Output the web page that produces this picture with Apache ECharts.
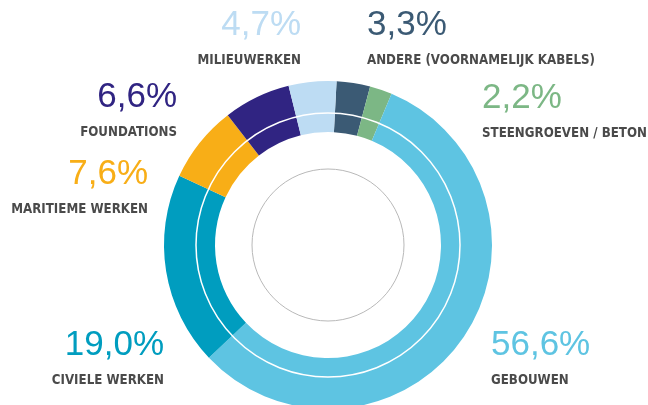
<!DOCTYPE html>
<html lang="nl">
  <head>
    <meta charset="UTF-8" />
    <title>Omzet per activiteit</title>
    <style>
      html, body { margin: 0; padding: 0; background: #fff; }
      #main { width: 648px; height: 405px; }
    </style>
  </head>
  <body>
    <div id="main"></div>
    <script src="https://cdn.jsdelivr.net/npm/echarts@6/dist/echarts.min.js"></script>
    <script>
      // clockwise from the top
      const names = [
        "ANDERE (VOORNAMELIJK KABELS)",
        "STEENGROEVEN / BETON",
        "GEBOUWEN",
        "CIVIELE WERKEN",
        "MARITIEME WERKEN",
        "FOUNDATIONS",
        "MILIEUWERKEN",
      ];
      const values = [3.3, 2.2, 56.6, 19.0, 7.6, 6.6, 4.7];
      const colors = ["#3b5a74", "#7cb785", "#5ec4e2", "#009dbf", "#f8ae17", "#302482", "#bddcf3"];

      // where each label block sits (top of the percent line)
      const labelSpots = [
        { x: 367, y: 7, align: "left" },
        { x: 482, y: 80, align: "left" },
        { x: 491, y: 327, align: "left" },
        { x: 164, y: 327, align: "right" },
        { x: 148, y: 156, align: "right" },
        { x: 177, y: 79, align: "right" },
        { x: 301, y: 7, align: "right" },
      ];

      const cx = 328, cy = 245;
      const chart = echarts.init(document.getElementById("main"));

      const fmt = (v) => v.toFixed(1).replace(".", ",") + "%";

      chart.setOption({
        animation: false,
        series: [
          {
            type: "pie",
            center: [cx, cy],
            radius: [113, 164],
            startAngle: 87,
            clockwise: true,
            avoidLabelOverlap: false,
            silent: true,
            labelLine: { show: false },
            data: names.map((n, i) => ({
              name: n,
              value: values[i],
              itemStyle: { color: colors[i] },
              label: {
                rich: {
                  p: {
                    fontFamily: "Liberation Sans",
                    fontSize: 35,
                    lineHeight: 36,
                    color: colors[i],
                  },
                },
              },
            })),
            label: {
              show: true,
              position: "outside",
              formatter: (p) => "{p|" + fmt(p.value) + "}\n{n|" + p.name + "}",
              rich: {
                n: {
                  fontFamily: "DejaVu Sans Condensed",
                  fontWeight: "bold",
                  fontSize: 13.2,
                  lineHeight: 36,
                  color: "#4a4a4a",
                },
              },
            },
            labelLayout: (params) => {
              const s = labelSpots[params.dataIndex];
              return { x: s.x, y: s.y, align: s.align, verticalAlign: "top" };
            },
          },
        ],
        graphic: [
          {
            type: "circle",
            z: 100,
            shape: { cx: cx, cy: cy, r: 132 },
            style: { fill: null, stroke: "#fff", lineWidth: 1.5 },
          },
          {
            type: "circle",
            z: 100,
            shape: { cx: cx, cy: cy, r: 76 },
            style: { fill: null, stroke: "#b8b8b8", lineWidth: 1 },
          },
        ],
      });
    </script>
  </body>
</html>
